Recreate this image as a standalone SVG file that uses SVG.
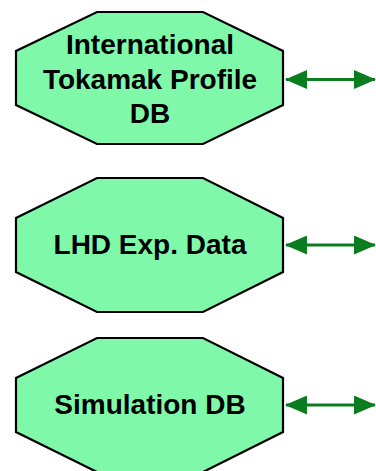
<svg xmlns="http://www.w3.org/2000/svg" width="376" height="471" viewBox="0 0 376 471">
<defs>
<style>
.oct{fill:#7ff9a9;stroke:#000;stroke-width:2.2;stroke-linejoin:miter}
.lbl{font-family:"Liberation Sans",Arial,sans-serif;font-weight:bold;font-size:28px;fill:#000;text-anchor:middle}
.con{stroke:#0a7d1e;stroke-width:3;fill:none;marker-start:url(#ah);marker-end:url(#ah)}
</style>
<marker id="ah" viewBox="0 0 22 19" refX="21" refY="9.5" markerWidth="22" markerHeight="19" markerUnits="userSpaceOnUse" orient="auto-start-reverse">
<path d="M0,0 L22,9.5 L0,19 Z" fill="#0a7d1e"/>
</marker>
</defs>
<rect width="376" height="471" fill="#fff"/>
<g id="node-itpdb">
<polygon class="oct" points="97,12 203,12 283,51 283,105 203,144 97,144 16,105 16,51"/>
<text class="lbl" x="150" y="54">International</text>
<text class="lbl" x="150" y="89">Tokamak Profile</text>
<text class="lbl" x="150" y="123">DB</text>
</g>
<g id="node-lhd">
<polygon class="oct" points="97,178 203,178 283,218 283,272 203,312 97,312 16,272 16,218"/>
<text class="lbl" x="150" y="254">LHD Exp. Data</text>
</g>
<g id="node-sim">
<polygon class="oct" points="97,338 203,338 283,378 283,432 203,472 97,472 16,432 16,378"/>
<text class="lbl" x="150" y="414">Simulation DB</text>
</g>
<g id="connectors">
<line class="con" x1="286" y1="79.5" x2="375" y2="79.5"/>
<line class="con" x1="286" y1="245" x2="375" y2="245"/>
<line class="con" x1="286" y1="405" x2="375" y2="405"/>
</g>
</svg>
